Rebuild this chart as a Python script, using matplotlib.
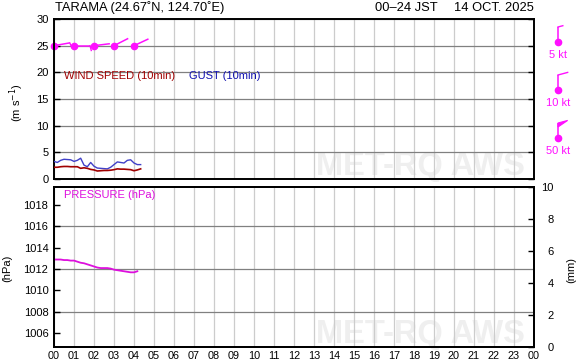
import numpy as np
import matplotlib
matplotlib.use("Agg")
import matplotlib.pyplot as plt
import matplotlib.transforms as mtransforms

plt.rcParams['font.family'] = ['Liberation Sans', 'DejaVu Sans']

# ---------------- data ----------------
wind_minutes = [0, 10, 20, 30, 40, 50, 60, 70, 80, 90, 100, 110, 120, 130,
                140, 150, 160, 170, 180, 190, 200, 210, 220, 230, 240, 250, 260]
wind_speed = [2.2, 2.2, 2.3, 2.35, 2.35, 2.3, 2.3, 2.3, 2.0, 2.1, 2.0, 1.8, 1.7, 1.5,
              1.55, 1.6, 1.6, 1.65, 1.75, 1.9, 1.85, 1.85, 1.8, 1.75, 1.55, 1.7, 1.9]
gust_speed = [3.3, 3.1, 3.5, 3.7, 3.65, 3.6, 3.3, 3.5, 3.9, 2.6, 2.3, 3.1, 2.4, 2.05,
              2.0, 1.95, 1.9, 2.2, 2.7, 3.2, 3.1, 3.0, 3.5, 3.6, 3.0, 2.7, 2.7]

pres_minutes = [0, 10, 20, 30, 40, 50, 60, 70, 80, 90, 100, 110, 120, 130,
                140, 150, 160, 170, 180, 190, 200, 210, 220, 230, 240, 250]
pressure = [1012.9, 1012.9, 1012.9, 1012.85, 1012.85, 1012.8, 1012.8, 1012.7, 1012.6,
            1012.55, 1012.45, 1012.35, 1012.25, 1012.15, 1012.1, 1012.1, 1012.1,
            1012.05, 1011.95, 1011.9, 1011.85, 1011.8, 1011.75, 1011.7, 1011.7, 1011.8]

barb_hours = [0, 1, 2, 3, 4]
barb_dir_deg = [80, 90, 83, 63, 65]     # direction wind comes from
barb_kt = [5, 5, 0, 0, 0]
barb_level = 25

legend_kt = [5, 10, 50]
legend_labels = ["5 kt", "10 kt", "50 kt"]

hour_labels = ["00", "01", "02", "03", "04", "05", "06", "07", "08", "09", "10", "11",
               "12", "13", "14", "15", "16", "17", "18", "19", "20", "21", "22", "23", "00"]

title_left = "TARAMA (24.67˚N, 124.70˚E)"
title_mid = "00–24 JST"
title_right = "14 OCT. 2025"

# ---------------- style ----------------
W, H = 579, 362
C_WIND = '#a00000'
C_GUST = '#4040c8'
C_PRES = '#dd10dd'
C_BARB = '#ff10ff'
C_VGRID = '#cccccc'
C_HGRID = '#808080'
C_WM = '#efefef'

fig = plt.figure(figsize=(W / 100, H / 100), dpi=100)


def fx(px):
    return px / W


def fy(py):
    return 1 - py / H


ax1 = fig.add_axes([fx(54), fy(179), 480 / W, 160 / H])
ax2 = fig.add_axes([fx(54), fy(347), 480 / W, 160 / H])

for ax in (ax1, ax2):
    ax.set_xlim(0, 24)
    ax.set_xticks(range(25))
    for sp in ax.spines.values():
        sp.set_linewidth(1.4)
    ax.set_axisbelow(True)
    ax.xaxis.grid(True, color=C_VGRID, lw=0.9)

# ---- top panel ----
ax1.set_ylim(0, 30)
ax1.set_yticks(range(0, 31, 5))
ax1.yaxis.grid(True, color=C_HGRID, lw=0.9)
ax1.tick_params(axis='x', length=0, labelbottom=False)
ax1.tick_params(axis='y', direction='in', length=4, width=1.0, labelsize=8, pad=4,
                right=True)

tw = [m / 60 for m in wind_minutes]
ax1.plot(tw, gust_speed, color=C_GUST, lw=1.0, zorder=3)
ax1.plot(tw, wind_speed, color=C_WIND, lw=1.2, zorder=4)

ax1.text(fx(64), fy(79), "WIND SPEED (10min)", transform=fig.transFigure,
         color='#a00000', fontsize=8, va='baseline')
ax1.text(fx(189), fy(79), "GUST (10min)", transform=fig.transFigure,
         color='#1010b0', fontsize=8, va='baseline')

ax1.text(0.98, 0.025, "MET-RQ AWS", transform=ax1.transAxes, ha='right', va='baseline',
         fontsize=23.5, fontweight='bold', color=C_WM, zorder=0.1)


def barb(ax, x, y, dir_deg, kt, base_trans, L=16):
    th = np.deg2rad(90 - dir_deg)
    ux, uy = np.cos(th), np.sin(th)
    bth = th - np.deg2rad(75)
    bx, by = np.cos(bth), np.sin(bth)
    tr = mtransforms.Affine2D() + mtransforms.ScaledTranslation(x, y, base_trans)
    ax.plot([0, L * ux], [0, L * uy], color=C_BARB, lw=1.1, transform=tr,
            clip_on=False, solid_capstyle='butt')
    pos = L
    rem = kt
    while rem >= 50:
        tip = np.array([pos * ux, pos * uy])
        p2 = tip + 10 * np.array([bx, by])
        p3 = np.array([(pos - 4) * ux, (pos - 4) * uy])
        ax.fill([tip[0], p2[0], p3[0]], [tip[1], p2[1], p3[1]], color=C_BARB,
                transform=tr, clip_on=False, lw=0.8)
        pos -= 5
        rem -= 50
    while rem >= 10:
        st = np.array([pos * ux, pos * uy])
        en = st + 10 * np.array([bx, by])
        ax.plot([st[0], en[0]], [st[1], en[1]], color=C_BARB, lw=1.0, transform=tr,
                clip_on=False)
        pos -= 3
        rem -= 10
    if rem >= 5:
        st = np.array([pos * ux, pos * uy])
        en = st + 5 * np.array([bx, by])
        ax.plot([st[0], en[0]], [st[1], en[1]], color=C_BARB, lw=1.0, transform=tr,
                clip_on=False)
    ax.plot([0], [0], 'o', ms=4.5, color=C_BARB, transform=tr, clip_on=False)


for h, d, k in zip(barb_hours, barb_dir_deg, barb_kt):
    barb(ax1, h, barb_level, d, k, ax1.transData)

leg_y = [42, 90, 138]
for k, lab, py in zip(legend_kt, legend_labels, leg_y):
    barb(ax1, fx(558), fy(py), 0, k, fig.transFigure, L=15)
    fig.text(fx(558), fy(py + 13), lab, ha='center', va='center', fontsize=8,
             color=C_BARB)

# ---- bottom panel ----
ax2.set_ylim(1004.7, 1019.7)
ax2.set_yticks([1008, 1012, 1016])
ax2.set_yticks([1006, 1010, 1014, 1018], minor=True)
ax2.set_yticklabels(["1008", "1012", "1016"])
ax2.set_yticklabels(["1006", "1010", "1014", "1018"], minor=True)
ax2.yaxis.grid(True, which='major', color=C_HGRID, lw=0.9)
ax2.tick_params(axis='y', which='both', direction='in', length=4, width=1.0,
                labelsize=8, pad=4)
ax2.set_xticklabels(hour_labels)
ax2.tick_params(axis='x', length=0, labelsize=7.8, pad=3)

tp = [m / 60 for m in pres_minutes]
ax2.plot(tp, pressure, color=C_PRES, lw=1.3, zorder=4)

ax2r = ax2.twinx()
ax2r.set_ylim(0, 10)
ax2r.set_yticks(range(0, 11, 2))
ax2r.tick_params(axis='y', direction='in', length=4, width=1.0, labelsize=8, pad=14)
for lbl in ax2r.get_yticklabels():
    lbl.set_horizontalalignment('right')
for sp in ax2r.spines.values():
    sp.set_linewidth(1.4)

ax2.text(fx(64), fy(198), "PRESSURE (hPa)", transform=fig.transFigure,
         color=C_PRES, fontsize=8, va='baseline')
ax2.text(0.98, 0.025, "MET-RQ AWS", transform=ax2.transAxes, ha='right', va='baseline',
         fontsize=23.5, fontweight='bold', color=C_WM, zorder=0.1)

# ---- axis labels & titles ----
fig.text(fx(17), fy(103), "(m s$^{-1}$)", rotation=90, ha='center', va='center', fontsize=8)
fig.text(fx(7), fy(268), "(hPa)", rotation=90, ha='center', va='center', fontsize=8)
fig.text(fx(571), fy(270), "(mm)", rotation=90, ha='center', va='center', fontsize=8)

fig.text(fx(55), fy(11), title_left, ha='left', va='baseline', fontsize=9.3)
fig.text(fx(438), fy(11), title_mid, ha='right', va='baseline', fontsize=9.3)
fig.text(fx(534), fy(11), title_right, ha='right', va='baseline', fontsize=9.3)

fig.savefig("out.png", dpi=100)
